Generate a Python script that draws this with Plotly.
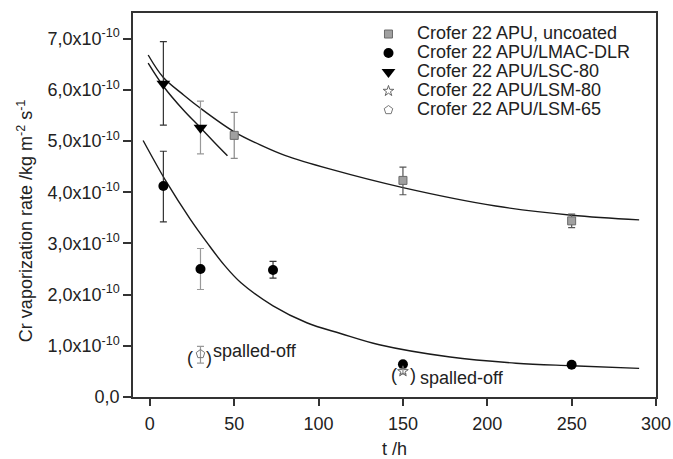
import plotly.graph_objects as go

# ---------------- data (rates in kg m^-2 s^-1, time in h) ----------------
uncoated_t = [50, 150, 250]
uncoated_v = [5.11e-10, 4.23e-10, 3.44e-10]
uncoated_e_plus = [0.45e-10, 0.26e-10, 0.13e-10]
uncoated_e_minus = [0.45e-10, 0.28e-10, 0.13e-10]
uncoated_ecol = ["#8a8a8a", "#555555", "#555555"]

lmac_t = [8, 30, 73, 150, 250]
lmac_v = [4.12e-10, 2.50e-10, 2.48e-10, 0.64e-10, 0.63e-10]
lmac_e_plus = [0.68e-10, 0.40e-10, 0.17e-10, 0.0, 0.0]
lmac_e_minus = [0.70e-10, 0.40e-10, 0.16e-10, 0.0, 0.0]
lmac_ecol = ["#333333", "#999999", "#333333", "#333333", "#333333"]

lsc_t = [8, 30]
lsc_v = [6.12e-10, 5.26e-10]
lsc_e_plus = [0.82e-10, 0.52e-10]
lsc_e_minus = [0.81e-10, 0.51e-10]
lsc_ecol = ["#333333", "#999999"]

lsm80_t = [150]
lsm80_v = [0.50e-10]
lsm80_e_plus = [0.05e-10]
lsm80_e_minus = [0.05e-10]
lsm80_ecol = ["#888888"]

lsm65_t = [30]
lsm65_v = [0.84e-10]
lsm65_e_plus = [0.15e-10]
lsm65_e_minus = [0.18e-10]
lsm65_ecol = ["#999999"]

# fitted curves
fit_uncoated_t = [-1, 8, 20, 30, 50, 67, 80, 107, 150, 205, 250, 290]
fit_uncoated_v = [6.68e-10, 6.24e-10, 5.90e-10, 5.64e-10, 5.18e-10, 4.90e-10,
                  4.72e-10, 4.45e-10, 4.09e-10, 3.73e-10, 3.55e-10, 3.46e-10]
fit_lsc_t = [-1, 8, 20, 30, 38, 46]
fit_lsc_v = [6.52e-10, 6.07e-10, 5.60e-10, 5.26e-10, 4.98e-10, 4.71e-10]
fit_lmac_t = [-4, 10, 24, 34, 44, 54, 73, 93, 113, 136, 178, 217, 250, 290]
fit_lmac_v = [5.01e-10, 4.19e-10, 3.47e-10, 3.01e-10, 2.58e-10, 2.23e-10, 1.78e-10,
              1.45e-10, 1.24e-10, 1.02e-10, 0.78e-10, 0.66e-10, 0.61e-10, 0.56e-10]

x_ticks = [0, 50, 100, 150, 200, 250, 300]
y_ticks = [0, 1e-10, 2e-10, 3e-10, 4e-10, 5e-10, 6e-10, 7e-10]
y_ticktext = ["0,0"] + [f"{i},0x10<sup>-10</sup>" for i in range(1, 8)]

names = ["Crofer 22 APU, uncoated", "Crofer 22 APU/LMAC-DLR", "Crofer 22 APU/LSC-80",
         "Crofer 22 APU/LSM-80", "Crofer 22 APU/LSM-65"]

FONT = "Liberation Sans, Arial, sans-serif"
TXT = "#222222"
fig = go.Figure()

# fitted curves
for tx, vy in [(fit_uncoated_t, fit_uncoated_v), (fit_lsc_t, fit_lsc_v), (fit_lmac_t, fit_lmac_v)]:
    fig.add_trace(go.Scatter(x=tx, y=vy, mode="lines", line=dict(color="#1a1a1a", width=1.4, shape="spline"),
                             showlegend=False, hoverinfo="skip"))

series = [
    (uncoated_t, uncoated_v, uncoated_e_plus, uncoated_e_minus, uncoated_ecol,
     dict(symbol="square", size=8, color="#a0a0a0", line=dict(color="#6a6a6a", width=1))),
    (lmac_t, lmac_v, lmac_e_plus, lmac_e_minus, lmac_ecol,
     dict(symbol="circle", size=10, color="#000000")),
    (lsc_t, lsc_v, lsc_e_plus, lsc_e_minus, lsc_ecol,
     dict(symbol="triangle-down", size=12, color="#000000")),
    (lsm80_t, lsm80_v, lsm80_e_plus, lsm80_e_minus, lsm80_ecol,
     dict(symbol="star-open", size=8, color="#666666", line=dict(width=1))),
    (lsm65_t, lsm65_v, lsm65_e_plus, lsm65_e_minus, lsm65_ecol,
     dict(symbol="pentagon-open", size=9, color="#777777", line=dict(width=1))),
]

for name, (tx, vy, ep, em, ec, mk) in zip(names, series):
    first = True
    for col in dict.fromkeys(ec):
        idx = [i for i, c in enumerate(ec) if c == col]
        fig.add_trace(go.Scatter(
            x=[tx[i] for i in idx], y=[vy[i] for i in idx], mode="markers",
            marker=mk,
            error_y=dict(type="data", symmetric=False, array=[ep[i] for i in idx],
                         arrayminus=[em[i] for i in idx], color=col, thickness=1.2, width=3.5),
            name='<span style="font-size:18px">' + name + '</span>',
            legendgroup=name, showlegend=first))
        first = False

ann_font = dict(family=FONT, size=18, color=TXT)
annotations = [
    dict(x=lsm65_t[0], y=lsm65_v[0], text="(", showarrow=False, xshift=-10, yshift=-4, font=ann_font),
    dict(x=lsm65_t[0], y=lsm65_v[0], text=")", showarrow=False, xshift=9, yshift=-4, font=ann_font),
    dict(x=lsm65_t[0], y=lsm65_v[0], text="spalled-off", showarrow=False, xanchor="left",
         xshift=11, yshift=3, font=ann_font),
    dict(x=lsm80_t[0], y=lsm80_v[0], text="(", showarrow=False, xshift=-9, yshift=-4, font=ann_font),
    dict(x=lsm80_t[0], y=lsm80_v[0], text=")", showarrow=False, xshift=10, yshift=-4, font=ann_font),
    dict(x=lsm80_t[0], y=lsm80_v[0], text="spalled-off", showarrow=False, xanchor="left",
         xshift=15, yshift=-7, font=ann_font),
    # y-axis title
    dict(x=-0.2065, y=0.458, xref="paper", yref="paper", showarrow=False, textangle=-90,
         xanchor="center", yanchor="middle",
         text="Cr vaporization rate /kg m<sup>-2</sup> s<sup>-1</sup>", font=ann_font),
]

axis_common = dict(showline=True, linecolor="#333333", linewidth=1.5, mirror=True,
                   ticks="outside", tickcolor="#333333", tickwidth=1.5,
                   showgrid=False, zeroline=False, automargin=False,
                   tickfont=dict(family=FONT, size=18, color=TXT))

fig.update_layout(
    width=673, height=459,
    margin=dict(l=133, r=17, t=13, b=62, autoexpand=False),
    paper_bgcolor="white", plot_bgcolor="white",
    font=dict(family=FONT, size=18, color=TXT),
    xaxis=dict(range=[-10, 300], tickvals=x_ticks, ticklen=7, ticklabelstandoff=3,
               title=dict(text="t /h", font=dict(family=FONT, size=18), standoff=10), **axis_common),
    yaxis=dict(range=[0, 7.5e-10], tickvals=y_ticks, ticktext=y_ticktext, ticklen=8,
               **axis_common),
    legend=dict(x=0.434, y=0.983, xanchor="left", yanchor="top", bgcolor="rgba(0,0,0,0)",
                itemwidth=47,
                font=dict(family=FONT, size=12, color=TXT), tracegroupgap=0),
    annotations=annotations,
    showlegend=True,
)

fig.write_html("out.html")
